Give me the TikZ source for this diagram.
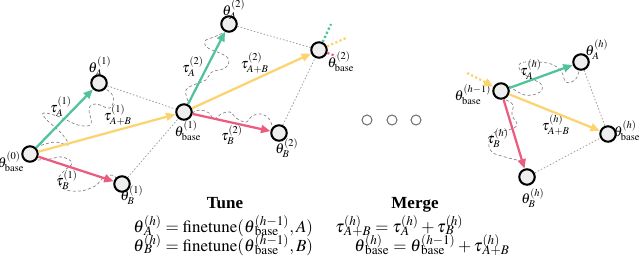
\documentclass[tikz,border=0pt]{standalone}
\usepackage{amsmath}
\usepackage{mathtools}
\usepackage{mathptmx}
\usepackage[no-math]{fontspec}
\setmainfont{Liberation Serif}
\usetikzlibrary{arrows.meta,backgrounds}
\definecolor{cgreen}{HTML}{52C29A}
\definecolor{cyellow}{HTML}{FCD36E}
\definecolor{cpink}{HTML}{EC5C7E}
\definecolor{cfill}{HTML}{EEEEEE}
\newcommand\supsub[2]{\mathrlap{{}^{#1}}\mathrlap{{}_{#2}}\phantom{{}^{#1}_{#2}}}
\begin{document}
\begin{tikzpicture}[x=0.53pt,y=-0.53pt,
  pt/.style={circle,draw=black,line width=1.1pt,fill=cfill,minimum size=8.2pt,inner sep=0pt},
  lbl/.style={font=\fontsize{7.5}{8}\selectfont,inner sep=0pt},
  vec/.style={line width=1.2pt,-{Triangle[length=5pt,width=4.2pt]}},
  traj/.style={gray,line width=0.35pt,dash pattern=on 1.6pt off 1.2pt},
  par/.style={gray!80,line width=0.4pt,dash pattern=on 0.8pt off 1pt},
  stub/.style={line width=1.2pt,dash pattern=on 1.2pt off 1.2pt},
  dotc/.style={circle,draw=gray!80!black,line width=0.5pt,minimum size=5.3pt,inner sep=0pt},
  eq/.style={inner sep=0pt,anchor=base west,font=\fontsize{9}{10}\selectfont},
  head/.style={inner sep=0pt,anchor=base,font=\fontsize{9}{10}\selectfont\bfseries}
]
\useasboundingbox (0,0) rectangle (640,263);

% points
\node[pt] (b0) at (30,154) {};
\node[pt] (a1) at (99,83) {};
\node[pt] (bb1) at (184,112) {};
\node[pt] (b1) at (122,184) {};
\node[pt] (a2) at (229,24) {};
\node[pt] (bb2) at (319,50) {};
\node[pt] (b2) at (279,133) {};
\node[pt] (bh1) at (501,91) {};
\node[pt] (ah) at (581,62) {};
\node[pt] (bhh) at (608,134) {};
\node[pt] (bh) at (527,177) {};

\node[dotc] (d1) at (367,120) {};
\node[dotc] (d2) at (392,120) {};
\node[dotc] (d3) at (416,120) {};

\coordinate (sg) at (331,24);
\coordinate (sy) at (346,38);
\coordinate (sp) at (336,56);
\coordinate (in) at (467,73);
\coordinate (inm) at (485,82);

\begin{scope}[on background layer]
  % parallelogram completions
  \draw[par] (a1) -- (bb1);
  \draw[par] (b1) -- (bb1);
  \draw[par] (a2) -- (bb2);
  \draw[par] (b2) -- (bb2);
  \draw[par] (ah) -- (bhh);
  \draw[par] (bh) -- (bhh);
  % trajectories
  \draw[traj] plot[smooth,tension=0.7] coordinates {(36,147) (55,142) (68,145) (62,134) (46,119) (44,113) (60,117) (78,125) (91,124) (89,109) (96,104) (110,108) (113,96) (104,88)};
  \draw[traj] plot[smooth,tension=0.7] coordinates {(38,160) (50,159) (62,157) (72,163) (64,171) (58,180) (64,189) (80,191) (95,186) (103,178) (112,175) (116,178)};
  \draw[traj] plot[smooth,tension=0.7] coordinates {(188,101) (186,90) (196,84) (206,80) (212,72) (225,68) (229,60) (222,54) (208,48) (205,41) (214,37) (223,33)};
  \draw[traj] plot[smooth,tension=0.7] coordinates {(192,113) (200,110) (209,113) (214,119) (221,114) (230,112) (236,118) (246,122) (252,116) (262,114) (270,120) (272,127)};
  \draw[traj] plot[smooth,tension=0.7] coordinates {(509,86) (525,95) (540,92) (541,84) (530,78) (520,70) (521,63) (536,62) (551,64) (561,71) (566,82) (575,80) (579,71)};
  \draw[traj] plot[smooth,tension=0.7] coordinates {(506,100) (513,105) (512,115) (517,125) (508,130) (495,132) (489,142) (492,152) (505,157) (519,161) (525,168)};
\end{scope}

% labels
\node[lbl] (l0) at (11,162) {$\theta^{(0)}_{\mathrm{base}}$};
\node[lbl] (la1) at (100,67) {$\theta^{(1)}_{A}$};
\node[lbl] (lbb1) at (188,131) {$\theta^{(1)}_{\mathrm{base}}$};
\node[lbl] (lb1) at (132,195) {$\theta^{(1)}_{B}$};
\node[lbl] (la2) at (234,10) {$\theta^{(2)}_{A}$};
\node[lbl] (lbb2) at (341,62) {$\theta^{(2)}_{\mathrm{base}}$};
\node[lbl] (lb2) at (287,148) {$\theta^{(2)}_{B}$};
\node[lbl] (lbh1) at (473,95) {$\theta^{(h-1)}_{\mathrm{base}}$};
\node[lbl] (lah) at (597,50) {$\theta^{(h)}_{A}$};
\node[lbl] (lbhh) at (627,131) {$\theta^{(h)}_{\mathrm{base}}$};
\node[lbl] (lbh) at (533,198) {$\theta^{(h)}_{B}$};

\node[lbl] (ta1) at (61,107) {$\tau^{(1)}_{A}$};
\node[lbl] (tab1) at (118,115) {$\tau^{(1)}_{A+B}$};
\node[lbl] (tb1) at (67,180) {$\tau^{(1)}_{B}$};
\node[lbl] (ta2) at (193,67) {$\tau^{(2)}_{A}$};
\node[lbl] (tab2) at (255,63) {$\tau^{(2)}_{A+B}$};
\node[lbl] (tb2) at (232,135) {$\tau^{(2)}_{B}$};
\node[lbl] (tah) at (531,70) {$\tau^{(h)}_{A}$};
\node[lbl] (tabh) at (556,125) {$\tau^{(h)}_{A+B}$};
\node[lbl] (tbh) at (498,138) {$\tau^{(h)}_{B}$};

% arrows
\draw[vec,cgreen] (b0) -- (a1);
\draw[vec,cyellow] (b0) -- (bb1);
\draw[vec,cpink] (b0) -- (b1);
\draw[vec,cgreen] (bb1) -- (a2);
\draw[vec,cyellow] (bb1) -- (bb2);
\draw[vec,cpink] (bb1) -- (b2);
\draw[vec,cgreen] (bh1) -- (ah);
\draw[vec,cyellow] (bh1) -- (bhh);
\draw[vec,cpink] (bh1) -- (bh);

% stubs
\draw[stub,cgreen] (bb2) -- (sg);
\draw[stub,cyellow] (bb2) -- (sy);
\draw[stub,cpink] (bb2) -- (sp);
\draw[stub,cyellow] (in) -- (inm);
\draw[vec,cyellow] (inm) -- (bh1);

% bottom text
\node[head] (tune) at (225,208) {Tune};
\node[head] (merge) at (415,208) {Merge};
\node[eq] (teq1) at (133,232) {$\theta\supsub{(h)}{A} = \mathrm{finetune}(\theta\supsub{(h-1)}{\mathrm{base}}, A)$};
\node[eq] (teq2) at (133,251) {$\theta\supsub{(h)}{B} = \mathrm{finetune}(\theta\supsub{(h-1)}{\mathrm{base}}, B)$};
\node[eq] (meq1) at (335,232) {$\tau\supsub{(h)}{A+B} = \tau\supsub{(h)}{A} + \tau\supsub{(h)}{B}$};
\node[eq] (meq2) at (354,251) {$\theta\supsub{(h)}{\mathrm{base}} = \theta\supsub{(h-1)}{\mathrm{base}} + \tau\supsub{(h)}{A+B}$};
\end{tikzpicture}
\end{document}
